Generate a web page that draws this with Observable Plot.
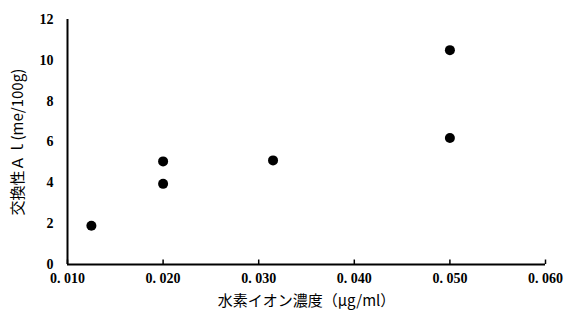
<!DOCTYPE html>
<html><head><meta charset="utf-8">
<script src="https://cdn.jsdelivr.net/npm/d3@7"></script>
<script src="https://cdn.jsdelivr.net/npm/@observablehq/plot@0.6"></script>
<style>body{margin:0;background:#fff}</style>
</head><body><div id="chart"></div>
<script>
const hConc = [0.0125, 0.020, 0.020, 0.0315, 0.050, 0.050];
const exAl = [1.9, 5.05, 3.95, 5.1, 10.5, 6.2];
const xTicks = [0.010, 0.020, 0.030, 0.040, 0.050, 0.060];
const xTickLabels = ["0. 010", "0. 020", "0. 030", "0. 040", "0. 050", "0. 060"];
const yTicks = [0, 2, 4, 6, 8, 10, 12];
const xLabel = "水素イオン濃度（μg/ml）";
const yLabel = "交換性Ａｌ(me/100g)";

const data = hConc.map((x, i) => ({x, y: exAl[i]}));

const chart = Plot.plot({
  width: 568, height: 320,
  marginLeft: 67, marginRight: 23, marginTop: 19, marginBottom: 56,
  style: {background: "#fff", color: "#000", fontFamily: "Liberation Serif", fontSize: "14px"},
  x: {domain: [0.010, 0.060]},
  y: {domain: [0, 12]},
  marks: [
    Plot.axisX({ticks: xTicks, tickSize: 0, tickPadding: 9, tickFormat: (d, i) => xTickLabels[i],
      fontFamily: "Liberation Serif", fontSize: 14, fontWeight: "bold",
      label: null}),
    Plot.axisX({ticks: [], tickSize: 0, label: xLabel, labelAnchor: "center", labelArrow: "none", labelOffset: 41,
      fontFamily: "Noto Sans CJK JP", fontSize: 15}),
    Plot.axisY({ticks: yTicks, tickSize: 0, tickPadding: 14,
      fontFamily: "Liberation Serif", fontSize: 14, fontWeight: "bold", label: null}),
    Plot.axisY({ticks: [], tickSize: 0, label: yLabel, labelAnchor: "center", labelArrow: "none", labelOffset: 55,
      fontFamily: "Noto Sans CJK JP", fontSize: 15}),
    Plot.ruleX(xTicks, {x: d => d, y1: 0, y2: 0.22, stroke: "#000", strokeWidth: 1.5}),
    Plot.ruleY([0], {stroke: "#000", strokeWidth: 2}),
    Plot.ruleX([0.010], {stroke: "#000", strokeWidth: 2}),
    Plot.dot(data, {x: "x", y: "y", r: 5, fill: "#000", stroke: "none"})
  ]
});
document.getElementById("chart").appendChild(chart);
</script></body></html>
